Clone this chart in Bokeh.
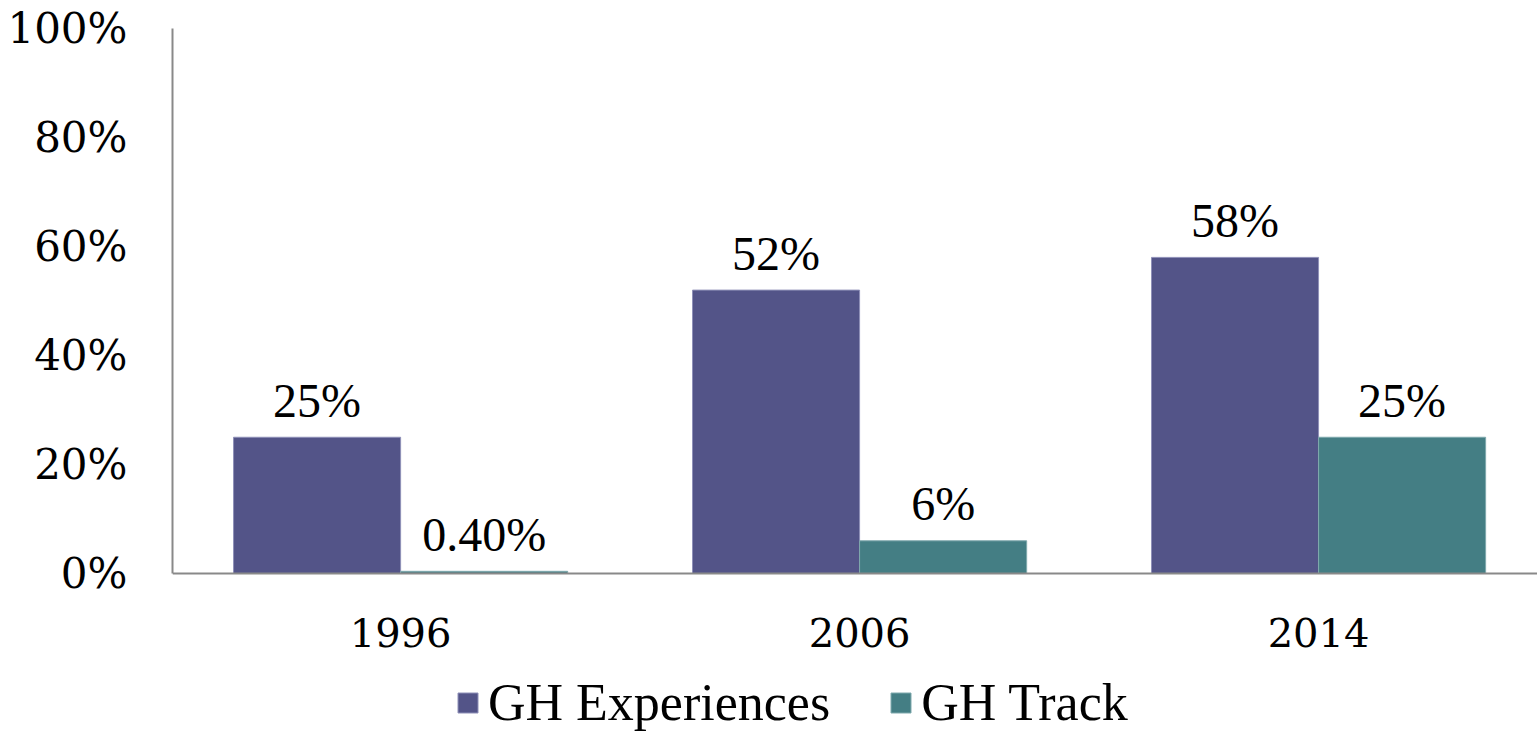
from bokeh.plotting import figure
from bokeh.models import (ColumnDataSource, Range1d, FixedTicker, PrintfTickFormatter,
                          Legend, LegendItem)
from bokeh.transform import dodge
from bokeh.embed import file_html
from bokeh.resources import INLINE

years = ["1996", "2006", "2014"]
gh_experiences = [25, 52, 58]
gh_track = [0.4, 6, 25]
exp_labels = ["25%", "52%", "58%"]
track_labels = ["0.40%", "6%", "25%"]
series_names = ["GH Experiences", "GH Track"]
y_ticks = [0, 20, 40, 60, 80, 100]

PURPLE = "#535488"
TEAL = "#447E84"
FONT = "DejaVu Serif"

src = ColumnDataSource(dict(
    x=list(range(len(years))),
    exp=gh_experiences,
    trk=gh_track,
    exp_lbl=exp_labels,
    trk_lbl=track_labels,
))

p = figure(width=1537, height=734, output_backend="svg", toolbar_location=None,
           x_range=Range1d(-0.497, 2.477), y_range=Range1d(-29.54, 100),
           min_border_left=172, min_border_top=28, min_border_right=0,
           min_border_bottom=0, outline_line_color=None)

bw = 0.364
r1 = p.vbar(x=dodge("x", -bw / 2, range=p.x_range), top="exp", width=bw, source=src,
            fill_color=PURPLE, line_color="#8f90b8", line_width=1)
r2 = p.vbar(x=dodge("x", bw / 2, range=p.x_range), top="trk", width=bw, source=src,
            fill_color=TEAL, line_color="#7fa9ad", line_width=1)

p.text(x=dodge("x", -bw / 2, range=p.x_range), y="exp", text="exp_lbl", source=src,
       text_align="center", text_baseline="alphabetic", y_offset=-37,
       text_font=FONT, text_font_size="48px", text_color="black")
p.text(x=dodge("x", bw / 2, range=p.x_range), y="trk", text="trk_lbl", source=src,
       text_align="center", text_baseline="alphabetic", y_offset=-37,
       text_font=FONT, text_font_size="48px", text_color="black")

p.xgrid.visible = False
p.ygrid.visible = False

xa = p.xaxis[0]
xa.fixed_location = 0
xa.ticker = FixedTicker(ticks=list(range(len(years))))
xa.major_label_overrides = {i: y for i, y in enumerate(years)}
ya = p.yaxis[0]
ya.ticker = FixedTicker(ticks=y_ticks)
ya.formatter = PrintfTickFormatter(format="%d%%")
ya.bounds = (0, 100)

for ax in (xa, ya):
    ax.axis_line_color = "#898989"
    ax.axis_line_width = 2
    ax.major_tick_line_color = None
    ax.minor_tick_line_color = None
    ax.major_tick_out = 0
    ax.major_tick_in = 0
    ax.major_label_text_font = FONT
    ax.major_label_text_color = "black"
ya.major_label_text_font_size = "42px"
xa.major_label_text_font_size = "40px"
ya.major_label_standoff = 45
xa.major_label_standoff = 44

legend = Legend(items=[LegendItem(label=series_names[0], renderers=[r1]),
                       LegendItem(label=series_names[1], renderers=[r2])],
                orientation="horizontal", location=(283, 2),
                glyph_width=25, glyph_height=25, label_standoff=8, spacing=58,
                label_text_font="Liberation Serif", label_text_font_size="52px",
                label_text_color="black",
                border_line_color=None, background_fill_alpha=0, padding=0, margin=0)
p.add_layout(legend, "center")

open("out.html", "w").write(file_html(p, INLINE))
